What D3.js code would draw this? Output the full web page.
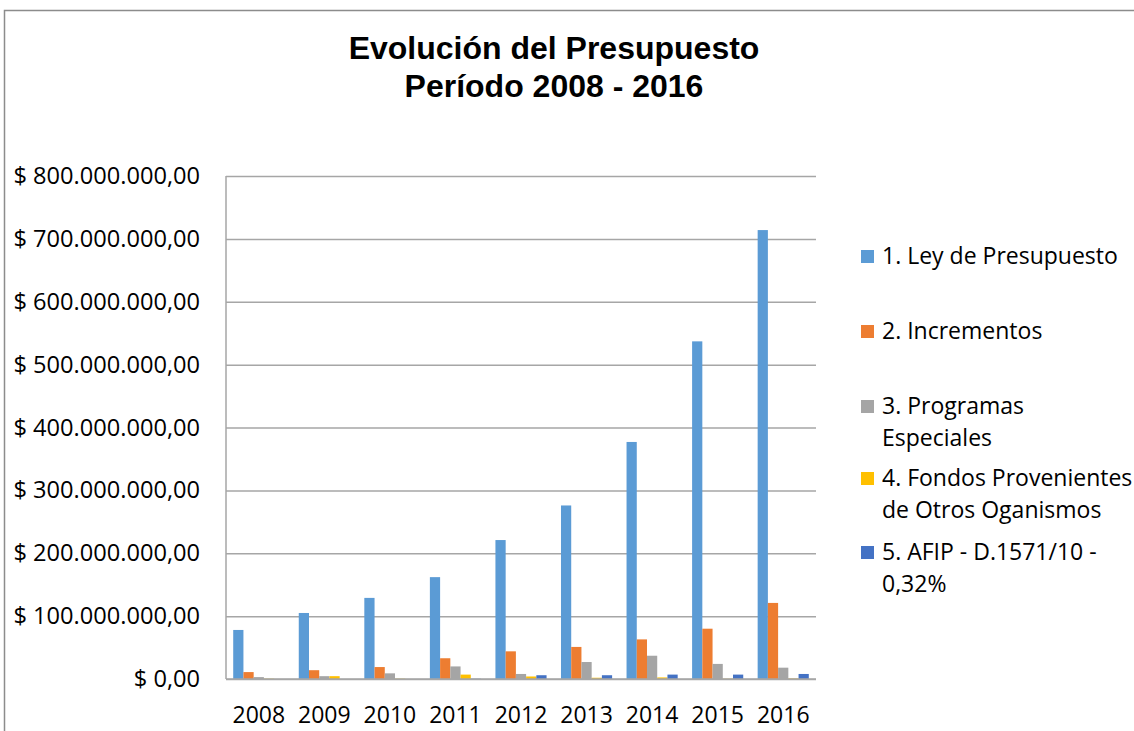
<!DOCTYPE html>
<html>
<head>
<meta charset="utf-8">
<script src="https://cdn.jsdelivr.net/npm/d3@7"></script>
<style>
  body { margin: 0; background: #fff; }
  svg { display: block; }
</style>
</head>
<body>
<svg></svg>
<script>
let years = ['2008', '2009', '2010', '2011', '2012', '2013', '2014', '2015', '2016'];
let seriesNames = [
  ['1. Ley de Presupuesto'],
  ['2. Incrementos'],
  ['3. Programas', 'Especiales'],
  ['4. Fondos Provenientes', 'de Otros Oganismos'],
  ['5. AFIP - D.1571/10 -', '0,32%']
];
// millones de pesos
let leyPresupuesto = [78, 105, 129, 162, 221, 276, 377, 537, 714];
let incrementos = [11, 14, 19, 33, 44, 51, 63, 80, 121];
let programasEspeciales = [3, 4.5, 9, 20, 8, 27, 37, 24, 18];
let fondosOtros = [0.5, 4.5, 0.5, 7, 4, 2, 2.5, 0.4, 0.8];
let afip = [0, 0, 0, 0.4, 6, 6, 7, 7, 8];
let yTicks = [0, 100, 200, 300, 400, 500, 600, 700, 800];

let series = [leyPresupuesto, incrementos, programasEspeciales, fondosOtros, afip];
let colors = ['#5b9bd5', '#ed7d31', '#a5a5a5', '#ffc000', '#4472c4'];

let width = 1134;
let height = 731;
let plotLeft = 226, plotRight = 816, plotTop = 176, plotBottom = 679;

let svg = d3.select('svg')
            .attr('width', width)
            .attr('height', height);

// frame
svg.append('path')
    .attr('d', `M4.5,${height} V10.5 H${width}`)
    .attr('fill', 'none')
    .attr('stroke', '#8c8c8c')
    .attr('stroke-width', 1.5);

let x0 = d3.scaleBand()
            .domain(years)
            .range([plotLeft, plotRight])
            .paddingInner(0.22)
            .paddingOuter(0.11);

let x1 = d3.scaleBand()
            .domain(d3.range(series.length))
            .range([0, x0.bandwidth()]);

let yScale = d3.scaleLinear()
                .domain([0, 800])
                .range([plotBottom, plotTop]);

let fmt = v => '$ ' + (v === 0 ? '0,00' : d3.format(',')(v * 1e6).replace(/,/g, '.') + ',00');

let yAxis = d3.axisLeft(yScale)
              .tickValues(yTicks)
              .tickSize(-(plotRight - plotLeft))
              .tickPadding(26)
              .tickFormat(fmt);

let gy = svg.append('g')
    .attr('transform', `translate(${plotLeft},0)`)
    .call(yAxis);
gy.select('.domain').remove();
gy.selectAll('line')
    .attr('stroke', '#a6a6a6')
    .attr('stroke-width', 1.5);
gy.selectAll('text')
    .attr('font-family', 'Open Sans')
    .attr('font-size', 23.6)
    .attr('fill', '#000');

// y axis line
svg.append('line')
    .attr('x1', plotLeft).attr('x2', plotLeft)
    .attr('y1', plotTop).attr('y2', plotBottom)
    .attr('stroke', '#a6a6a6')
    .attr('stroke-width', 1.5);

let xAxis = d3.axisBottom(x0).tickSize(0).tickPadding(28);
let gx = svg.append('g')
    .attr('transform', `translate(0,${plotBottom})`)
    .call(xAxis);
gx.select('.domain').remove();
gx.selectAll('text')
    .attr('font-family', 'Open Sans')
    .attr('font-size', 23)
    .attr('fill', '#000');

svg.selectAll('g.year')
    .data(years)
    .enter()
    .append('g')
    .classed('year', true)
    .attr('transform', d => `translate(${x0(d)},0)`)
    .selectAll('rect')
    .data((d, i) => series.map((s, k) => ({ k: k, v: s[i] })))
    .enter()
    .append('rect')
    .attr('x', d => x1(d.k))
    .attr('width', x1.bandwidth())
    .attr('y', d => yScale(d.v))
    .attr('height', d => plotBottom - yScale(d.v))
    .attr('fill', d => colors[d.k]);

// bottom axis line over bars
svg.append('line')
    .attr('x1', plotLeft).attr('x2', plotRight)
    .attr('y1', plotBottom).attr('y2', plotBottom)
    .attr('stroke', '#a6a6a6')
    .attr('stroke-width', 1.5);

// title
let title = svg.append('text')
    .attr('text-anchor', 'middle')
    .attr('font-family', 'Liberation Sans, Arial')
    .attr('font-weight', 'bold')
    .attr('font-size', 32);
title.append('tspan').attr('x', 554).attr('y', 59).text('Evolución del Presupuesto');
title.append('tspan').attr('x', 554).attr('y', 97).text('Período 2008 - 2016');

// legend
let legendTop = [264, 339, 414, 486, 560];
let legend = svg.selectAll('g.legend')
    .data(seriesNames)
    .enter()
    .append('g')
    .classed('legend', true)
    .attr('transform', (d, i) => `translate(861,${legendTop[i]})`);

legend.append('rect')
    .attr('x', 0)
    .attr('y', -14)
    .attr('width', 13)
    .attr('height', 13)
    .attr('fill', (d, i) => colors[i]);

legend.append('text')
    .attr('font-family', 'Open Sans')
    .attr('font-size', 23)
    .attr('fill', '#000')
    .selectAll('tspan')
    .data(d => d)
    .enter()
    .append('tspan')
    .attr('x', 21)
    .attr('y', (d, j) => j * 32)
    .text(d => d);
</script>
</body>
</html>
